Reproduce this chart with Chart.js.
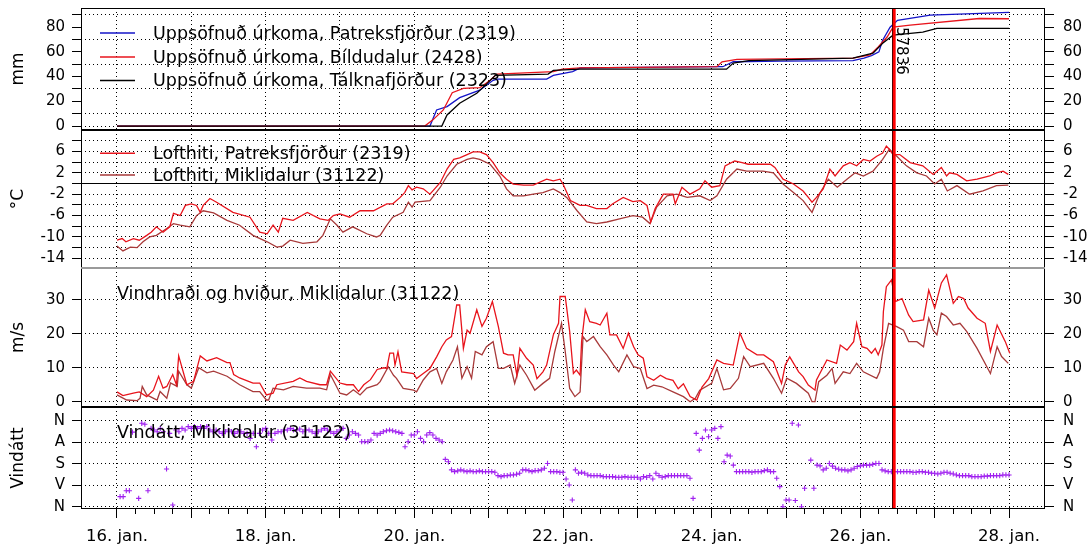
<!DOCTYPE html>
<html>
<head>
<meta charset="utf-8">
<script src="https://cdn.jsdelivr.net/npm/chart.js@4.4.1/dist/chart.umd.min.js"></script>
<style>
  body { margin: 0; background: #fff; width: 1091px; height: 550px; overflow: hidden; position: relative; }
  canvas { position: absolute; left: 0; }
</style>
</head>
<body>
<canvas id="rain"></canvas>
<canvas id="temp"></canvas>
<canvas id="wind"></canvas>
<canvas id="dir"></canvas>
<script>
// x values are days after 16. jan. 00:00
const dayNames = ["16. jan.", "17. jan.", "18. jan.", "19. jan.", "20. jan.", "21. jan.", "22. jan.",
  "23. jan.", "24. jan.", "25. jan.", "26. jan.", "27. jan.", "28. jan."]

const mmTicks = [0, 10, 20, 30, 40, 50, 60, 70, 80, 90]
const tempTicks = [-14, -12, -10, -8, -6, -4, -2, 0, 2, 4, 6, 8]
const windTicks = [0, 10, 20, 30]
const dirTicks = [0, 90, 180, 270, 360]
const dirLabels = ["N", "A", "S", "V", "N"]

const markerDays = [10.42, 10.455]
const markerLabel = "57836"

// uppsöfnuð úrkoma (mm)
const rainPatreks = [[0, 0], [4.21, 0], [4.3, 13], [4.44, 15.7], [4.61, 23], [4.88, 29], [5.06, 37], [5.12, 38],
  [5.78, 38], [5.87, 41], [6.13, 44], [6.23, 47], [8.15, 48], [8.29, 52], [8.92, 52.5], [9.9, 53], [10.05, 55],
  [10.15, 57], [10.25, 60], [10.3, 69.5], [10.4, 80], [10.5, 85.6], [10.94, 89.7], [12, 92]]
const rainBildu = [[0, 0], [4.14, 0], [4.25, 5], [4.39, 13], [4.51, 27], [4.66, 30.5], [4.88, 31], [5.02, 37],
  [5.11, 42], [5.87, 44], [5.99, 46], [6.23, 47], [8.07, 48], [8.14, 52], [8.34, 54], [9.9, 55], [10.13, 57.5],
  [10.24, 64], [10.36, 72], [10.44, 80], [10.67, 81.6], [11.6, 87], [12, 86.8]]
const rainTalkna = [[0, 0], [4.37, 0], [4.44, 9], [4.61, 18.5], [4.84, 26.5], [4.98, 34.5], [5.09, 41], [5.8, 42],
  [5.87, 45], [6.23, 46], [8.2, 46], [8.29, 51], [8.5, 53], [9.9, 55], [10.17, 59], [10.3, 67], [10.44, 73.5],
  [10.84, 76], [11.03, 79], [12, 79]]

// lofthiti (°C)
const tempPatreks = [[0, -10.6], [0.07, -10.3], [0.12, -10.9], [0.22, -10.3], [0.3, -10.6], [0.4, -9.7], [0.46, -9.1],
  [0.53, -8.1], [0.62, -9.1], [0.71, -8.1], [0.76, -5.6], [0.85, -6], [0.92, -4.1], [1.0, -3.8], [1.07, -4.1],
  [1.12, -5.4], [1.16, -4.1], [1.25, -2.8], [1.34, -3.5], [1.56, -5.4], [1.79, -6.3], [1.92, -9.1], [2.02, -9.4],
  [2.1, -7.8], [2.17, -9.1], [2.23, -6.5], [2.37, -6.9], [2.56, -5.4], [2.73, -6.6], [2.84, -6.9], [2.91, -6],
  [3.0, -5.7], [3.13, -6.3], [3.27, -5.1], [3.45, -5.1], [3.63, -3.8], [3.71, -3.8], [3.81, -2.6], [3.87, -1.7],
  [3.92, -0.4], [3.97, -1.2], [4.03, -0.7], [4.12, -1.0], [4.21, -2.0], [4.35, 0.2], [4.44, 2.7], [4.53, 4.5],
  [4.61, 4.8], [4.71, 5.4], [4.79, 5.9], [4.88, 5.9], [4.97, 5.4], [5.06, 3.9], [5.15, 2.0], [5.24, 0.8],
  [5.33, -0.1], [5.47, -0.3], [5.6, -0.3], [5.78, 0.8], [5.87, 0.5], [5.96, 0.8], [6.0, -0.1], [6.1, -3.2],
  [6.23, -4.1], [6.32, -4.1], [6.45, -4.7], [6.59, -4.7], [6.67, -3.8], [6.81, -2.6], [6.94, -3.4], [7.04, -3.2],
  [7.13, -4.1], [7.18, -7.2], [7.24, -4.7], [7.3, -3.2], [7.35, -2.0], [7.48, -2.0], [7.51, -3.8], [7.6, -0.7],
  [7.71, -2.0], [7.84, -1.0], [7.91, 0.5], [8.0, -0.7], [8.11, -0.4], [8.18, 3.3], [8.31, 4.2], [8.41, 3.9],
  [8.49, 3.6], [8.65, 3.6], [8.79, 3.6], [8.85, 3.0], [8.96, 0.8], [9.1, -0.1], [9.23, -1.4], [9.3, -2.6],
  [9.35, -3.5], [9.41, -2.6], [9.5, -1.0], [9.59, 2.7], [9.66, 1.4], [9.77, 3.3], [9.86, 3.9], [9.95, 3.3],
  [10.04, 4.5], [10.13, 4.2], [10.22, 5.1], [10.3, 5.7], [10.35, 7.0], [10.39, 6.4], [10.44, 5.4], [10.53, 5.4],
  [10.67, 3.9], [10.84, 3.3], [10.98, 1.7], [11.09, 3.0], [11.16, 1.4], [11.2, 2.0], [11.3, 1.7], [11.43, 0.5],
  [11.57, 0.8], [11.65, 1.1], [11.74, 1.4], [11.83, 2.0], [11.92, 2.3], [11.99, 1.7]]
const tempMikli = [[0, -11.7], [0.08, -12.6], [0.18, -11.9], [0.27, -12.0], [0.35, -10.9], [0.44, -10.0], [0.53, -9.7],
  [0.67, -8.4], [0.76, -7.5], [0.85, -7.8], [0.98, -8.1], [1.07, -6.0], [1.16, -5.1], [1.3, -5.5], [1.48, -6.9],
  [1.65, -7.8], [1.83, -9.7], [2.02, -10.9], [2.15, -11.9], [2.23, -11.7], [2.33, -10.6], [2.5, -11.2], [2.69, -10.9],
  [2.77, -9.7], [2.87, -6.6], [2.96, -7.8], [3.04, -9.1], [3.17, -8.1], [3.36, -9.4], [3.49, -10.0], [3.54, -9.7],
  [3.63, -7.8], [3.71, -6.3], [3.85, -5.4], [3.92, -3.5], [3.97, -4.4], [4.01, -3.5], [4.21, -3.2], [4.35, -0.7],
  [4.44, 1.4], [4.57, 3.6], [4.71, 4.5], [4.79, 4.8], [4.88, 4.5], [5.02, 3.6], [5.15, 1.4], [5.24, -1.0],
  [5.33, -2.3], [5.47, -2.3], [5.6, -2.0], [5.73, -1.7], [5.87, -1.0], [5.96, -1.7], [6.05, -2.6], [6.19, -5.1],
  [6.32, -7.2], [6.45, -7.5], [6.59, -7.2], [6.76, -6.6], [6.94, -6.0], [7.07, -6.3], [7.17, -7.5], [7.26, -4.4],
  [7.4, -2.3], [7.53, -2.0], [7.67, -2.6], [7.84, -2.3], [7.98, -3.2], [8.07, -2.3], [8.2, 0.8], [8.34, 2.7],
  [8.47, 2.3], [8.69, 2.3], [8.83, 2.0], [8.96, -0.1], [9.1, -1.7], [9.23, -3.2], [9.35, -5.4], [9.46, -1.7],
  [9.57, 0.8], [9.69, -0.7], [9.82, 0.8], [9.93, 2.0], [10.04, 1.4], [10.17, 2.3], [10.3, 4.5], [10.39, 6.4],
  [10.49, 5.1], [10.62, 3.3], [10.76, 2.0], [10.89, 1.4], [11.0, -0.1], [11.09, 0.8], [11.17, -1.4], [11.3, -0.4],
  [11.47, -2.0], [11.65, -1.4], [11.83, -0.4], [11.99, -0.3]]

// vindhraði og hviður (m/s)
const windGust = [[0, 2.9], [0.08, 1.8], [0.22, 2.5], [0.3, 2.9], [0.4, 1.5], [0.49, 3.4], [0.56, 7.5], [0.62, 4.0],
  [0.67, 4.5], [0.75, 8], [0.8, 5], [0.83, 13.5], [0.94, 5], [1.03, 6], [1.12, 13.5], [1.21, 12], [1.34, 13],
  [1.48, 11.5], [1.52, 11.5], [1.57, 8], [1.65, 7], [1.83, 5.5], [1.92, 5.5], [2.01, 2], [2.1, 2.5], [2.15, 5],
  [2.37, 6], [2.46, 7], [2.55, 6], [2.73, 5], [2.82, 5], [2.87, 9], [3.0, 5.5], [3.09, 5], [3.18, 5], [3.25, 3],
  [3.32, 5], [3.41, 6.5], [3.5, 9.5], [3.59, 10], [3.63, 9.8], [3.67, 14.3], [3.72, 14.3], [3.74, 10.8],
  [3.78, 14.7], [3.83, 8.8], [3.99, 8.3], [4.03, 6.8], [4.12, 8.3], [4.21, 9.8], [4.3, 13.2], [4.37, 16.2],
  [4.43, 18.2], [4.5, 19.2], [4.57, 28.5], [4.61, 28.5], [4.66, 15.7], [4.71, 21.1], [4.75, 20.2], [4.84, 27.1],
  [4.91, 22.2], [4.97, 24.6], [5.05, 29.5], [5.13, 22.2], [5.2, 14.3], [5.26, 13.8], [5.33, 13.8], [5.38, 7.8],
  [5.42, 15.7], [5.51, 12.8], [5.6, 10.8], [5.65, 6.8], [5.73, 8.8], [5.78, 10.8], [5.87, 19.7], [5.94, 23.1],
  [5.96, 31], [6.03, 31], [6.09, 20.7], [6.14, 8.3], [6.18, 9.3], [6.23, 7.8], [6.25, 17.7], [6.3, 27.1],
  [6.36, 23.6], [6.45, 23.1], [6.5, 22.6], [6.59, 26.1], [6.63, 19.7], [6.72, 19.7], [6.81, 15.7], [6.88, 20.2],
  [6.95, 16.2], [7.01, 13.8], [7.08, 12.8], [7.13, 7.3], [7.22, 6.3], [7.31, 7.8], [7.39, 6.8], [7.48, 6.3],
  [7.55, 3.8], [7.62, 5.3], [7.71, 1.5], [7.8, 0.5], [7.87, 4.3], [7.96, 6.8], [8.07, 12.3], [8.16, 11.3],
  [8.29, 10.8], [8.38, 20.2], [8.47, 15.7], [8.61, 13.8], [8.7, 13.8], [8.83, 11.8], [8.94, 5.4], [8.99, 10.8],
  [9.05, 13.2], [9.17, 8.8], [9.23, 7.4], [9.3, 4.9], [9.39, 3.4], [9.41, 6.4], [9.55, 12.3], [9.68, 11.3],
  [9.73, 16.7], [9.82, 15.2], [9.91, 17.7], [9.95, 23.1], [10.02, 16.2], [10.09, 15.7], [10.15, 14.3],
  [10.2, 15.7], [10.24, 13.8], [10.29, 16.7], [10.31, 26.6], [10.35, 33.9], [10.42, 35.9], [10.47, 29.5],
  [10.56, 30.4], [10.65, 25.5], [10.71, 23.6], [10.85, 24.1], [10.92, 32.9], [11.0, 27.6], [11.09, 35],
  [11.16, 37.4], [11.25, 29], [11.32, 31], [11.39, 30.4], [11.45, 27.6], [11.57, 24.6], [11.68, 23.1],
  [11.75, 14.8], [11.84, 22.6], [11.95, 17.7], [12.01, 14.3]]
const windMean = [[0, 2], [0.13, 0.5], [0.27, 0.3], [0.31, 1], [0.34, 4.5], [0.4, 2], [0.54, 0.5], [0.58, 3], [0.67, 1],
  [0.72, 5.5], [0.81, 4.5], [0.83, 9], [0.94, 5], [1.0, 4], [1.1, 10], [1.21, 8.5], [1.3, 9], [1.48, 7.5], [1.65, 5],
  [1.83, 3], [1.92, 3], [2.01, 0.5], [2.04, 0.5], [2.1, 4], [2.24, 3.5], [2.37, 4.5], [2.55, 4], [2.73, 4],
  [2.82, 3.5], [2.87, 8], [3.0, 2.5], [3.09, 2], [3.18, 3.5], [3.27, 2], [3.36, 4], [3.5, 5], [3.54, 5.9],
  [3.65, 10.3], [3.72, 7.8], [3.76, 6.9], [3.85, 3.9], [3.99, 3.4], [4.03, 2.9], [4.12, 6.4], [4.21, 8.8],
  [4.3, 9.8], [4.37, 5.4], [4.43, 8.8], [4.52, 12.3], [4.58, 16.2], [4.64, 6.9], [4.71, 10.3], [4.77, 6.9],
  [4.82, 14.8], [4.91, 13.8], [4.97, 16.2], [5.06, 17.7], [5.13, 9.8], [5.2, 9.8], [5.29, 10.8], [5.35, 5.4],
  [5.42, 10.8], [5.51, 7.8], [5.62, 3.4], [5.73, 5.4], [5.82, 6.9], [5.89, 14.8], [5.98, 23.1], [6.03, 14.8],
  [6.09, 3.9], [6.16, 1.5], [6.23, 2.9], [6.27, 19.2], [6.32, 17.7], [6.41, 19.2], [6.5, 16.2], [6.59, 13.8],
  [6.68, 10.8], [6.75, 8.8], [6.86, 13.8], [6.95, 10.3], [7.04, 9.8], [7.13, 3.9], [7.22, 4.9], [7.33, 4.4],
  [7.48, 2.9], [7.62, 1.5], [7.71, 0], [7.78, 1], [7.84, 3.4], [8.0, 5.4], [8.07, 9.8], [8.16, 3.5], [8.25, 3.9],
  [8.36, 6.9], [8.43, 13.3], [8.52, 10.3], [8.7, 11.3], [8.83, 6.9], [8.94, 2.5], [9.01, 6.9], [9.14, 5.4],
  [9.3, 2.5], [9.35, 0], [9.39, 0], [9.44, 5.9], [9.55, 7.8], [9.62, 9.8], [9.66, 5.4], [9.77, 8.8], [9.86, 8.3],
  [9.95, 11.3], [10.04, 8.8], [10.22, 6.9], [10.26, 8.8], [10.31, 15.7], [10.38, 23.1], [10.49, 22.1],
  [10.58, 21.1], [10.65, 17.7], [10.76, 17.7], [10.85, 16.2], [10.92, 24.6], [10.98, 21.1], [11.03, 19.7],
  [11.09, 26.1], [11.16, 25.1], [11.25, 22.6], [11.34, 23.1], [11.43, 20.7], [11.57, 15.7], [11.75, 8.3],
  [11.84, 16.2], [11.9, 13.3], [11.99, 11.3]]

// vindátt (gráður), ein tala á klukkustund, fyrsta gildið kl. 00 16. jan.
const windDirHourly = [
  null, 318, 318, 293, 293, 48, null, 325, 11, 15, 293, 32, 39, 46, 32, 46, 202, 53, 353, 39, 46, 32, 39, 25,
  32, 25, 32, 25, 32, 25, 39, 46, 39, 46, 53, 46, 39, 46, 53, 46, 46, 53, 53, 74, 53, 109, 53, 39,
  32, 53, 81, 53, 46, 46, 39, 39, 32, 39, 39, 35, 46, 39, 39, 46, 53, 46, 39, 32, 39, 46, 53, 46,
  39, 32, 74, 60, 46, 53, 60, 88, 88, 88, 81, 53, 60, 53, 46, 42, 39, 42, 46, 49, 53, 109, 88, 60,
  60, 46, 74, 88, 60, 50, 60, 74, 81, 88, 162, 172, 206, 213, 210, 206, 210, 213, 210, 213, 213, 210, 213, 213,
  213, 213, 216, 230, 234, 230, 230, 227, 227, 224, 220, 206, 206, 209, 213, 209, 209, 206, 199, 179, 213, 213, 213, 216,
  216, 244, 269, 332, 206, 220, 216, 220, 227, 230, 230, 230, 230, 234, 234, 234, 234, 237, 237, 237, 234, 237, 237, 237,
  237, 244, 234, 237, 230, 244, 220, 230, 237, 234, 230, 230, 230, 230, 230, 230, 230, 241, 325, 53, 123, 74, 39, 67,
  39, 32, 74, 25, 172, 144, 148, 186, 213, 213, 213, 213, 213, 216, 213, 213, 213, 209, 206, 213, 213, 241, 276, 360,
  332, 332, 11, 334, 18, 360, 283, null, 165, 283, 186, 189, 206, 199, 179, 190, 199, 203, 206, 206, 210, 206, 199, 192,
  189, 186, 186, 186, 183, 179, 179, 206, 210, 213, 213, 213, 213, 213, 213, 213, 213, 216, 216, 213, 213, 216, 216, 220,
  220, 223, 220, 216, 216, 220, 223, 227, 230, 230, 230, 230, 234, 234, 234, 234, 232, 232, 230, 230, 230, 230, 227, 227,
  227
]

const BLUE = "#1414c8"
const RED = "#e8141c"
const DARKRED = "#a83a3a"
const PURPLE = "#a020f0"
const FONT = "'DejaVu Sans', sans-serif"

Chart.defaults.font.family = FONT
Chart.defaults.color = "#000"
Chart.defaults.animation = false

const decor = {
  id: "decor",
  beforeDatasetsDraw(chart, args, o) {
    if (!o.zeroLine) return
    const { ctx, chartArea: a, scales } = chart
    const y = Math.round(scales.y.getPixelForValue(0)) + 0.5
    ctx.save()
    ctx.strokeStyle = "#000"
    ctx.lineWidth = 1
    ctx.beginPath()
    ctx.moveTo(a.left, y)
    ctx.lineTo(a.right, y)
    ctx.stroke()
    ctx.restore()
  },
  afterDatasetsDraw(chart, args, o) {
    const { ctx, chartArea: a, scales } = chart
    ctx.save()

    // atburðalínur
    const xb = Math.round(scales.x.getPixelForValue(markerDays[0])) + 0.5
    const xr = scales.x.getPixelForValue(markerDays[1])
    ctx.strokeStyle = "#000"
    ctx.lineWidth = 1
    ctx.beginPath()
    ctx.moveTo(xb, a.top)
    ctx.lineTo(xb, a.bottom)
    ctx.stroke()
    ctx.strokeStyle = "#ff0000"
    ctx.lineWidth = 3
    ctx.beginPath()
    ctx.moveTo(xr, a.top)
    ctx.lineTo(xr, a.bottom)
    ctx.stroke()

    if (o.markerText) {
      ctx.save()
      ctx.translate(xr + 3, a.top + 19)
      ctx.rotate(Math.PI / 2)
      ctx.fillStyle = "#000"
      ctx.font = "15px " + FONT
      ctx.textAlign = "left"
      ctx.textBaseline = "alphabetic"
      ctx.fillText(markerLabel, 0, 0)
      ctx.restore()
    }

    // skýringar
    ctx.font = "17.5px " + FONT
    ctx.textBaseline = "middle"
    ctx.textAlign = "left"
    for (const it of (o.notes || [])) {
      const y = a.top + it.dy
      if (it.color) {
        ctx.strokeStyle = it.color
        ctx.lineWidth = 1.4
        ctx.beginPath()
        ctx.moveTo(100, y)
        ctx.lineTo(135, y)
        ctx.stroke()
      }
      ctx.fillStyle = "#000"
      ctx.fillText(it.text, it.x, y + 1)
    }

    // rammi
    const l = Math.round(a.left) + 0.5, r = Math.round(a.right) - 0.5
    const t = Math.round(a.top) + 0.5, b = Math.round(a.bottom) - 0.5
    ctx.lineWidth = 1
    ctx.strokeStyle = "#000"
    ctx.beginPath()
    ctx.moveTo(l, a.top); ctx.lineTo(l, a.bottom)
    ctx.moveTo(r, a.top); ctx.lineTo(r, a.bottom)
    ctx.stroke()
    ctx.strokeStyle = o.topColor || "#000"
    ctx.beginPath(); ctx.moveTo(a.left, t); ctx.lineTo(a.right, t); ctx.stroke()
    ctx.strokeStyle = o.bottomColor || "#000"
    ctx.beginPath(); ctx.moveTo(a.left, b); ctx.lineTo(a.right, b); ctx.stroke()
    ctx.restore()
  }
}

const X_MIN = -0.484
const X_MAX = 12.484
const dayTicks = dayNames.map((d, i) => i)
const quarterTicks = []
for (let i = 0; i <= 48; i++) quarterTicks.push(i / 4)

function isDay(v) {
  return Math.abs(v - Math.round(v)) < 1e-6
}

function xScale(last) {
  return {
    type: "linear",
    min: X_MIN,
    max: X_MAX,
    afterBuildTicks: s => { s.ticks = (last ? quarterTicks : dayTicks).map(v => ({ value: v })) },
    afterFit: s => { s.height = last ? 41 : 0 },
    grid: {
      color: ctx => isDay(ctx.tick.value) ? "#000" : "rgba(0,0,0,0)",
      lineWidth: 1,
      drawTicks: last,
      tickLength: 9,
      tickColor: "#000",
      tickBorderDash: ctx => isDay(ctx.tick.value) ? [] : [5, 30]
    },
    border: { display: false, dash: [1, 3] },
    ticks: {
      display: last,
      autoSkip: false,
      maxRotation: 0,
      minRotation: 0,
      padding: 9,
      font: { size: 16.5 },
      callback: v => (isDay(v) && Math.round(v) % 2 === 0) ? dayNames[Math.round(v)] : ""
    }
  }
}

function yScale(pos, range, ticks, label, gridOn, title, reverse) {
  return {
    type: "linear",
    position: pos,
    min: range[0],
    max: range[1],
    reverse: !!reverse,
    afterBuildTicks: s => { s.ticks = ticks.map(v => ({ value: v })) },
    afterFit: s => { s.width = pos === "left" ? 81 : 46 },
    grid: {
      drawOnChartArea: pos === "left",
      color: ctx => gridOn(ctx.tick.value) ? "#000" : "rgba(0,0,0,0)",
      lineWidth: 1,
      tickLength: 9,
      tickColor: "#000"
    },
    border: { display: false, dash: [1, 3] },
    ticks: {
      autoSkip: false,
      padding: pos === "left" ? 7 : 9,
      font: { size: 15 },
      callback: v => label(v)
    },
    title: {
      display: pos === "left",
      text: title || "",
      padding: { top: 8, bottom: 0 },
      font: { size: 17 }
    }
  }
}

function line(data, color) {
  return { data, borderColor: color, borderWidth: 1.3, pointRadius: 0, tension: 0, fill: false }
}

// each panel gets its own canvas; the plot area is pinned to [top, bottom] in page pixels
function panel(id, top, bottom, last, y, y2, datasets, decorOpts) {
  const pad = 14
  const canvas = document.getElementById(id)
  let h = last ? 550 - (top - pad) : (bottom - top) + 2 * pad
  canvas.width = 1091
  canvas.height = h
  canvas.style.width = "1091px"
  canvas.style.height = h + "px"
  const chart = new Chart(canvas, {
    type: "line",
    data: { datasets },
    options: {
      responsive: false,
      maintainAspectRatio: false,
      devicePixelRatio: 1,
      layout: { padding: { top: pad, bottom: last ? 0 : pad, left: 0, right: 0 } },
      scales: { x: xScale(last), y, y2 },
      plugins: { legend: { display: false }, tooltip: { enabled: false }, decor: decorOpts }
    },
    plugins: [decor]
  })
  for (let k = 0; k < 3; k++) {
    const diff = (bottom - top) - (chart.chartArea.bottom - chart.chartArea.top)
    if (Math.abs(diff) < 0.01) break
    h = Math.round(h + diff)
    chart.resize(1091, h)
  }
  canvas.style.top = Math.round(top - chart.chartArea.top) + "px"
  return chart
}

// 1. úrkoma
const mmRange = [-3.2, 95.5]
const mmLabel = v => (v % 20 === 0 ? String(v) : "")
const mmGrid = v => v === 0 || v % 20 !== 0
panel("rain", 8, 130, false,
  yScale("left", mmRange, mmTicks, mmLabel, mmGrid, "mm"),
  yScale("right", mmRange, mmTicks, mmLabel, mmGrid),
  [line(rainTalkna, "#000"), line(rainBildu, RED), line(rainPatreks, BLUE)],
  {
    markerText: true,
    notes: [
      { text: "Uppsöfnuð úrkoma, Patreksfjörður (2319)", color: BLUE, x: 153, dy: 25 },
      { text: "Uppsöfnuð úrkoma, Bíldudalur (2428)", color: RED, x: 153, dy: 49 },
      { text: "Uppsöfnuð úrkoma, Tálknafjörður (2323)", color: "#000", x: 153, dy: 72.5 }
    ]
  })

// 2. lofthiti
const tempRange = [-15.8, 10.0]
const tempLabel = v => ((v + 14) % 4 === 0 ? String(v) : "")
const tempGrid = v => v !== 0
panel("temp", 130, 268, false,
  yScale("left", tempRange, tempTicks, tempLabel, tempGrid, "°C"),
  yScale("right", tempRange, tempTicks, tempLabel, tempGrid),
  [line(tempPatreks, RED), line(tempMikli, DARKRED)],
  {
    zeroLine: true,
    bottomColor: "#9a9a9a",
    notes: [
      { text: "Lofthiti, Patreksfjörður (2319)", color: RED, x: 153, dy: 23.3 },
      { text: "Lofthiti, Miklidalur (31122)", color: DARKRED, x: 153, dy: 45 }
    ]
  })

// 3. vindur
const windRange = [-1.56, 39.4]
const windLabel = v => String(v)
const windGrid = v => true
panel("wind", 268, 407, false,
  yScale("left", windRange, windTicks, windLabel, windGrid, "m/s"),
  yScale("right", windRange, windTicks, windLabel, windGrid),
  [line(windGust, RED), line(windMean, DARKRED)],
  {
    topColor: "#9a9a9a",
    notes: [{ text: "Vindhraði og hviður, Miklidalur (31122)", color: null, x: 117, dy: 25 }]
  })

// 4. vindátt
const dirPoints = []
windDirHourly.forEach((d, i) => { if (d !== null) dirPoints.push({ x: i / 24, y: d }) })
const dirRange = [-57.3, 369.6]
const dirLabel = v => dirLabels[dirTicks.indexOf(v)]
const dirGrid = v => true
panel("dir", 407, 509, true,
  yScale("left", dirRange, dirTicks, dirLabel, dirGrid, "Vindátt", true),
  yScale("right", dirRange, dirTicks, dirLabel, dirGrid, null, true),
  [{
    data: dirPoints, showLine: false, pointStyle: "cross", pointRadius: 2.6,
    pointBorderColor: PURPLE, pointBorderWidth: 1.1, borderColor: PURPLE
  }],
  {
    notes: [{ text: "Vindátt, Miklidalur (31122)", color: null, x: 117, dy: 25 }]
  })
</script>
</body>
</html>
